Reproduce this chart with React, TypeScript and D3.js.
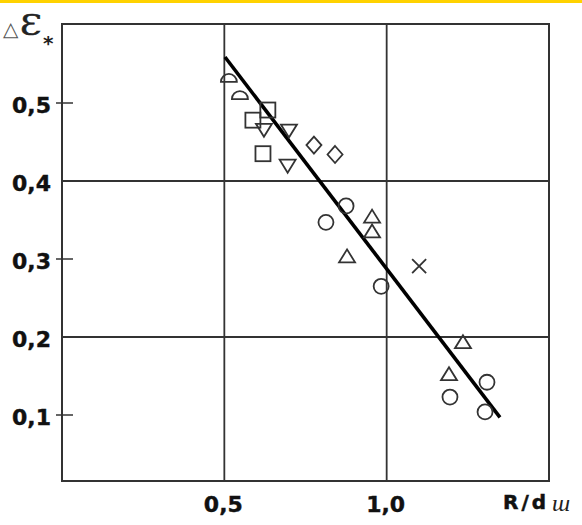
import * as d3 from 'd3'

// values (x = R/d, y = Δε*)
const xTicks = [0.5, 1.0]
const xTickLabels = ['0,5', '1,0']
const yGrid = [0.4, 0.2]
const yMinor = [0.5, 0.3, 0.1]
const yTicks = [0.5, 0.4, 0.3, 0.2, 0.1]
const yTickLabels = ['0,5', '0,4', '0,3', '0,2', '0,1']

const halfCircles = [[0.514, 0.527], [0.548, 0.505]]
const squares = [[0.634, 0.491], [0.588, 0.478], [0.619, 0.435]]
const downTriangles = [[0.622, 0.465], [0.699, 0.464], [0.695, 0.419]]
const diamonds = [[0.776, 0.446], [0.841, 0.434]]
const circles = [[0.875, 0.368], [0.813, 0.347], [0.983, 0.265], [1.309, 0.142], [1.195, 0.123], [1.303, 0.104]]
const upTriangles = [[0.955, 0.355], [0.955, 0.336], [0.878, 0.304], [1.235, 0.194], [1.192, 0.153]]
const crosses = [[1.1, 0.291]]
const fitLine = [[0.502, 0.559], [1.349, 0.097]]

export default function App() {
  const W = 582, H = 525
  const left = 62, right = 549, top = 24, bottom = 481
  const x = d3.scaleLinear().domain([0, 1.5]).range([left, right])
  const y = d3.scaleLinear().domain([0, 0.6]).range([493, 25])
  const ink = '#333'
  const sw = 1.8
  const labelFont = 'bold 22px "DejaVu Sans"'

  const line = d3.line<number[]>().x(d => x(d[0])).y(d => y(d[1]))
  const tri = (up: boolean) => {
    const h = 13, b = 8
    return up
      ? `M0,${-h / 2}L${b},${h / 2}L${-b},${h / 2}Z`
      : `M0,${h / 2}L${b},${-h / 2}L${-b},${-h / 2}Z`
  }

  return (
    <div style={{ position: 'absolute', left: 0, top: 0 }}>
      <svg width={W} height={H} style={{ display: 'block', background: '#fff' }}>
        <rect x={0} y={0} width={W} height={3} fill="#ffd200" />

        {/* frame and grid */}
        <rect x={left} y={top} width={right - left} height={bottom - top} fill="none" stroke={ink} strokeWidth={2} />
        {xTicks.map(t => (
          <line key={'gx' + t} x1={x(t)} x2={x(t)} y1={top} y2={bottom} stroke={ink} strokeWidth={1.8} />
        ))}
        {yGrid.map(t => (
          <line key={'gy' + t} x1={left} x2={right} y1={y(t)} y2={y(t)} stroke={ink} strokeWidth={1.8} />
        ))}
        {yMinor.map(t => (
          <line key={'ty' + t} x1={left - 6} x2={left + 11} y1={y(t)} y2={y(t)} stroke={ink} strokeWidth={1.5} />
        ))}

        {/* tick labels */}
        {yTicks.map((t, i) => (
          <text key={'ly' + t} x={51} y={y(t) + 10} textAnchor="end"
            style={{ font: labelFont, fill: '#111', stroke: '#111', strokeWidth: 0.4 }}>{yTickLabels[i]}</text>
        ))}
        {xTicks.map((t, i) => (
          <text key={'lx' + t} x={x(t) - 1} y={512} textAnchor="middle"
            style={{ font: labelFont, fill: '#111', stroke: '#111', strokeWidth: 0.4 }}>{xTickLabels[i]}</text>
        ))}

        {/* axis titles */}
        <text x={503} y={509} style={{ font: 'bold 20px "DejaVu Sans"', letterSpacing: '3px', fill: '#111', stroke: '#111', strokeWidth: 0.5 }}>R/d</text>
        <text x={552} y={511} style={{ font: 'italic 24px "Liberation Serif"', fill: '#222' }}>ш</text>
        <text x={3} y={36} style={{ font: '20px "DejaVu Sans"', fill: '#555' }}>△</text>
        <text transform="translate(20,35) scale(1.25,1)" style={{ font: '28px "DejaVu Serif"', fill: '#222', stroke: '#222', strokeWidth: 0.6 }}>Ɛ</text>
        <text x={43} y={50} style={{ font: 'bold 20px "DejaVu Sans"', fill: '#222' }}>*</text>

        {/* regression line */}
        <path d={line(fitLine) || ''} fill="none" stroke="#000" strokeWidth={3.6} />

        {/* markers */}
        <g fill="none" stroke={ink} strokeWidth={sw}>
          {halfCircles.map((d, i) => (
            <path key={'h' + i} transform={`translate(${x(d[0])},${y(d[1])})`} d="M-8,0A8,8 0 0 1 8,0Z" />
          ))}
          {squares.map((d, i) => (
            <rect key={'s' + i} x={x(d[0]) - 7.5} y={y(d[1]) - 7.5} width={15} height={15} />
          ))}
          {downTriangles.map((d, i) => (
            <path key={'dt' + i} transform={`translate(${x(d[0])},${y(d[1])})`} d={tri(false)} />
          ))}
          {upTriangles.map((d, i) => (
            <path key={'ut' + i} transform={`translate(${x(d[0])},${y(d[1])})`} d={tri(true)} />
          ))}
          {diamonds.map((d, i) => (
            <path key={'d' + i} transform={`translate(${x(d[0])},${y(d[1])})`} d="M0,-8.5L7.5,0L0,8.5L-7.5,0Z" />
          ))}
          {circles.map((d, i) => (
            <circle key={'c' + i} cx={x(d[0])} cy={y(d[1])} r={7.5} />
          ))}
          {crosses.map((d, i) => (
            <path key={'x' + i} transform={`translate(${x(d[0])},${y(d[1])})`} d="M-7,-7L7,7M-7,7L7,-7" />
          ))}
        </g>
      </svg>
    </div>
  )
}
